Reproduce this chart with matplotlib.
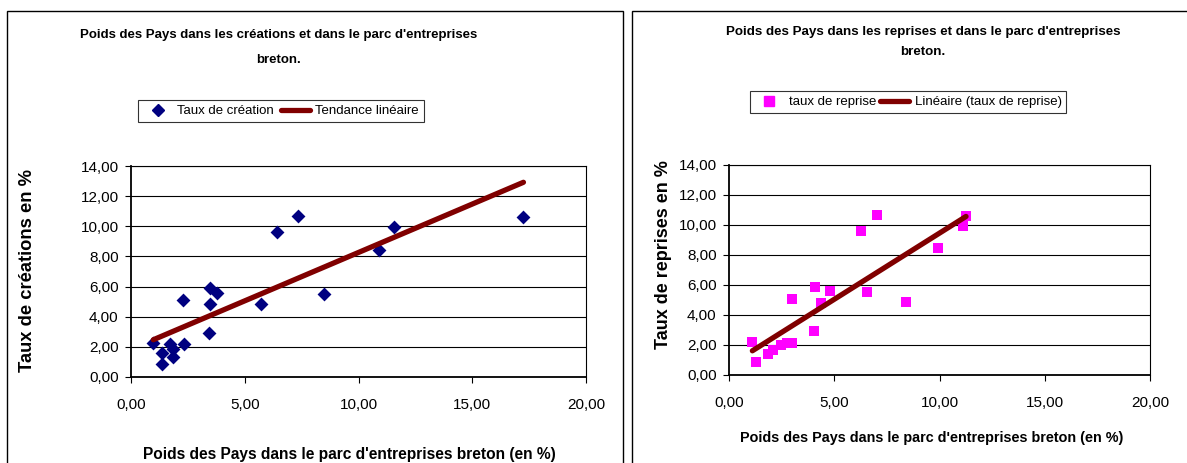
import numpy as np
import matplotlib
matplotlib.use("Agg")
import matplotlib.pyplot as plt
from matplotlib.patches import Rectangle
from matplotlib.lines import Line2D
from matplotlib import font_manager as fm

plt.rcParams['font.family'] = ['Liberation Sans', 'DejaVu Sans']

# ---- data: left chart (créations) ----
parc_crea = [0.98, 1.37, 1.35, 1.71, 1.86, 1.83, 2.34, 2.30, 3.42, 3.49, 3.49, 3.79,
             5.73, 6.43, 7.34, 8.48, 10.89, 11.54, 17.25]
taux_crea = [2.27, 1.56, 0.89, 2.22, 1.89, 1.33, 2.16, 5.11, 2.93, 4.82, 5.93, 5.60,
             4.85, 9.60, 10.67, 5.51, 8.45, 9.96, 10.63]

# ---- data: right chart (reprises) ----
parc_rep = [1.11, 1.27, 1.86, 2.10, 2.49, 2.76, 2.97, 2.97, 4.05, 4.08, 4.37, 4.80,
            6.26, 6.54, 7.02, 8.41, 9.95, 11.14, 11.26]
taux_rep = [2.22, 0.89, 1.38, 1.67, 2.00, 2.11, 2.16, 5.07, 2.91, 5.84, 4.82, 5.60,
            9.60, 5.51, 10.64, 4.84, 8.44, 9.93, 10.60]

x_ticks = [0, 5, 10, 15, 20]
x_ticklabels = ["0,00", "5,00", "10,00", "15,00", "20,00"]
y_ticks = [0, 2, 4, 6, 8, 10, 12, 14]
y_ticklabels = ["0,00", "2,00", "4,00", "6,00", "8,00", "10,00", "12,00", "14,00"]

# condensed font if available
try:
    fm.findfont(fm.FontProperties(family='Liberation Sans Narrow'), fallback_to_default=False)
    NARROW = True
except Exception:
    NARROW = False

if NARROW:
    NF = ['Liberation Sans Narrow', 'Liberation Sans', 'DejaVu Sans']
    S = dict(title_l=11.4, title_r=11.6, leg=11.5, tick=12.5, xlab_l=13.5, xlab_r=12.5)
else:
    NF = ['Liberation Sans', 'DejaVu Sans']
    S = dict(title_l=9.5, title_r=9.6, leg=9.55, tick=11.0, xlab_l=11.2, xlab_r=10.4)
RF = ['Liberation Sans', 'DejaVu Sans']

W, H = 1187, 463
fig = plt.figure(figsize=(W / 100, H / 100), dpi=100)

def fx(px):
    return px / W

def fy(py):
    return 1 - py / H

# panel frames
fig.patches.append(Rectangle((fx(7), fy(470)), fx(623 - 7), (470 - 11) / H,
                             transform=fig.transFigure, fill=False, ec='black', lw=1.0))
fig.patches.append(Rectangle((fx(632), fy(470)), fx(1200 - 632), (470 - 11) / H,
                             transform=fig.transFigure, fill=False, ec='black', lw=1.0))

TREND = '#800000'

def setup(ax):
    ax.set_xlim(0, 20)
    ax.set_ylim(0, 14)
    ax.set_xticks(x_ticks)
    ax.set_xticklabels(x_ticklabels, fontsize=S['tick'], family=NF)
    ax.set_yticks(y_ticks)
    ax.set_yticklabels(y_ticklabels, fontsize=S['tick'], family=NF)
    ax.tick_params(direction='out', length=4, width=0.8, color='black')
    ax.tick_params(axis='x', pad=11)
    ax.tick_params(axis='y', pad=5)
    ax.grid(axis='y', color='black', lw=0.8)
    ax.set_axisbelow(True)
    for s in ax.spines.values():
        s.set_color('black')
        s.set_linewidth(0.8)
    ax.spines['left'].set_linewidth(1.3)
    ax.spines['bottom'].set_linewidth(1.3)

def trend(ax, x, y):
    x = np.asarray(x)
    y = np.asarray(y)
    a, b = np.polyfit(x, y, 1)
    xs = np.array([x.min(), x.max()])
    ax.plot(xs, a * xs + b, color=TREND, lw=3.8, solid_capstyle='round', zorder=4)

# ---- left ----
ax1 = fig.add_axes([fx(131), fy(377), fx(586 - 131), (377 - 166) / H])
setup(ax1)
ax1.scatter(parc_crea, taux_crea, marker='D', s=50, color='#000080', zorder=3, lw=0)
trend(ax1, parc_crea, taux_crea)

fig.text(fx(279), fy(35), "Poids des Pays dans les créations et dans le parc d'entreprises",
         ha='center', va='center', fontsize=S['title_l'], fontweight='bold', family=NF)
fig.text(fx(279), fy(60), "breton.", ha='center', va='center', fontsize=S['title_l'],
         fontweight='bold', family=NF)
fig.text(fx(28), fy(271), "Taux de créations en %", rotation=90, ha='center', va='center',
         fontsize=13.2, fontweight='bold', family=RF)
fig.text(fx(349), fy(455), "Poids des Pays dans le parc d'entreprises breton (en %)",
         ha='center', va='center', fontsize=S['xlab_l'], fontweight='bold', family=NF)

h1 = [Line2D([], [], marker='D', color='#000080', ls='none', markersize=6),
      Line2D([], [], color=TREND, lw=3.8, solid_capstyle='round')]
leg1 = fig.legend(h1, ["Taux de création", "Tendance linéaire"], loc='center',
                  bbox_to_anchor=(fx(281), fy(111)), ncol=2, frameon=True, fancybox=False,
                  edgecolor='black', prop=fm.FontProperties(family=NF, size=S['leg']),
                  handlelength=2.2, columnspacing=0.5,
                  handletextpad=0.4, borderpad=0.35)
leg1.get_frame().set_linewidth(0.8)

# ---- right ----
ax2 = fig.add_axes([fx(729), fy(375), fx(1150 - 729), (375 - 165) / H])
setup(ax2)
ax2.scatter(parc_rep, taux_rep, marker='s', s=50, color='#FF00FF', zorder=3, lw=0)
trend(ax2, parc_rep, taux_rep)

fig.text(fx(923), fy(32), "Poids des Pays dans les reprises et dans le parc d'entreprises",
         ha='center', va='center', fontsize=S['title_r'], fontweight='bold', family=NF)
fig.text(fx(923), fy(52), "breton.", ha='center', va='center', fontsize=S['title_r'],
         fontweight='bold', family=NF)
fig.text(fx(663), fy(255), "Taux de reprises en %", rotation=90, ha='center', va='center',
         fontsize=13, fontweight='bold', family=RF)
fig.text(fx(932), fy(438), "Poids des Pays dans le parc d'entreprises breton (en %)",
         ha='center', va='center', fontsize=S['xlab_r'], fontweight='bold', family=NF)

h2 = [Line2D([], [], marker='s', color='#FF00FF', ls='none', markersize=7),
      Line2D([], [], color=TREND, lw=3.8, solid_capstyle='round')]
leg2 = fig.legend(h2, ["taux de reprise", "Linéaire (taux de reprise)"], loc='center',
                  bbox_to_anchor=(fx(908), fy(102)), ncol=2, frameon=True, fancybox=False,
                  edgecolor='black', prop=fm.FontProperties(family=NF, size=S['leg']),
                  handlelength=2.2, columnspacing=0.3,
                  handletextpad=0.4, borderpad=0.35)
leg2.get_frame().set_linewidth(0.8)

fig.savefig("out.png", dpi=100)
